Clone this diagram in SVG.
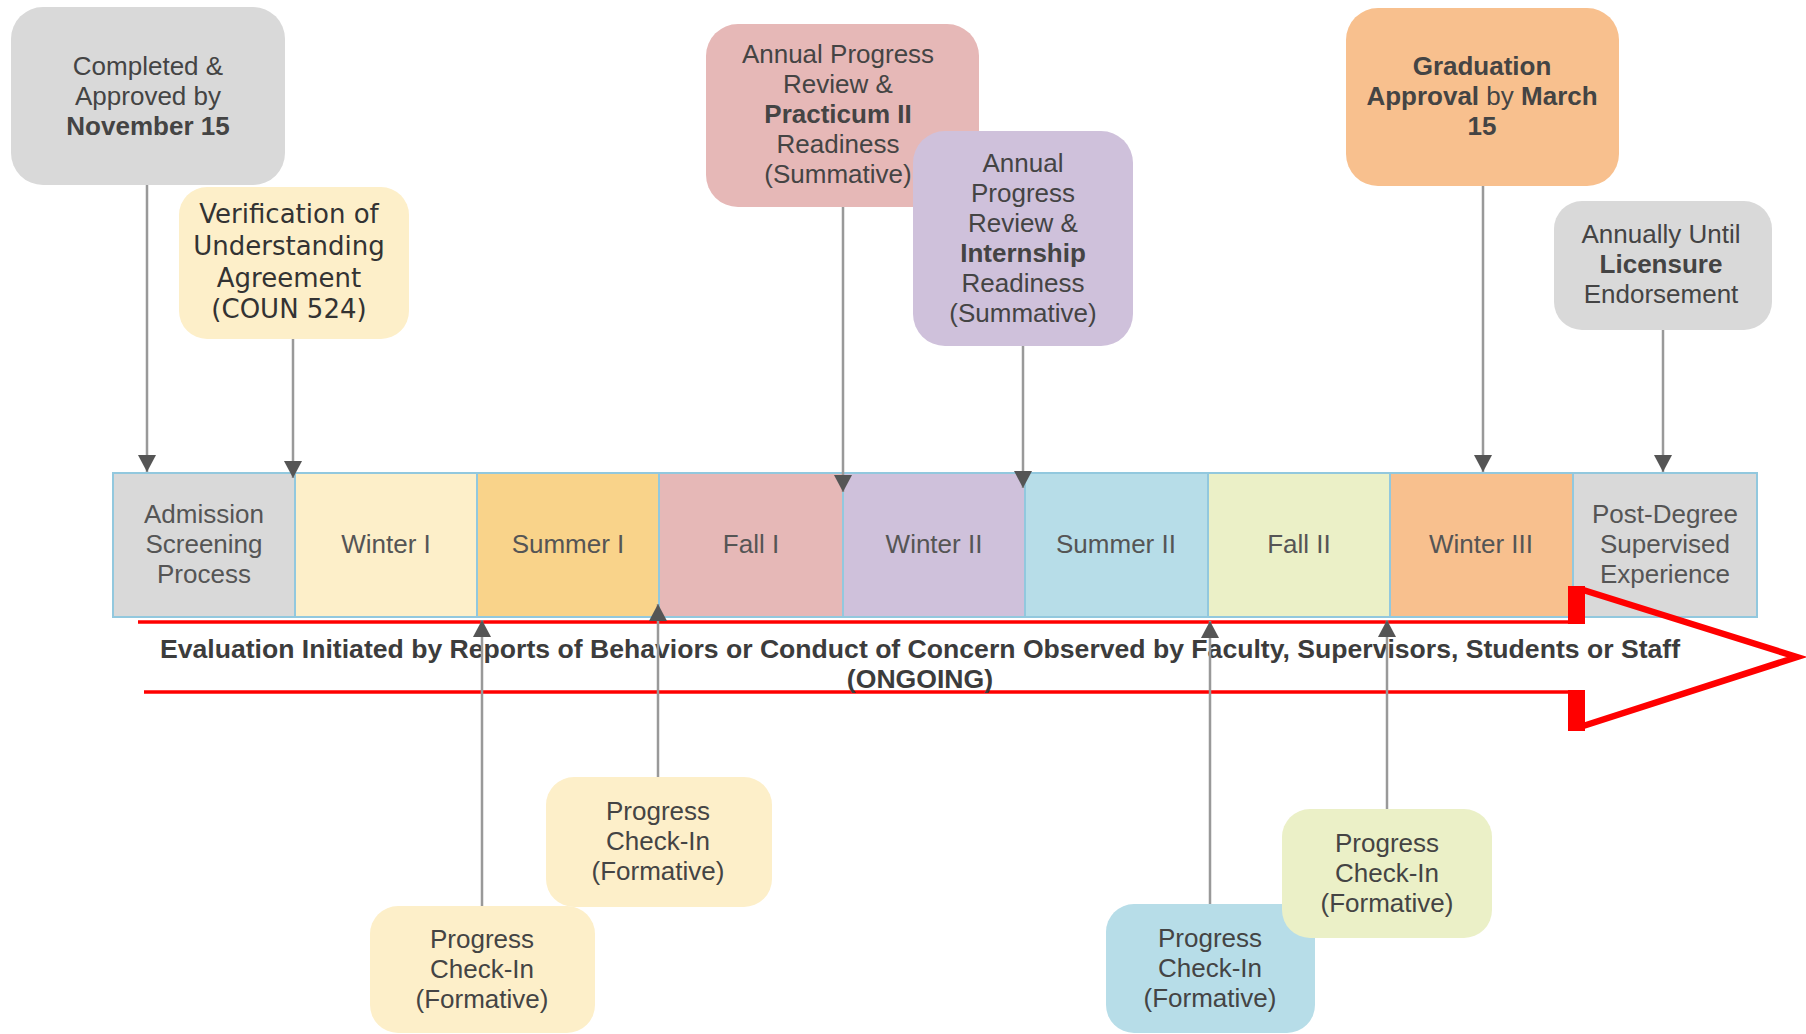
<svg xmlns="http://www.w3.org/2000/svg" width="1806" height="1034" viewBox="0 0 1806 1034">
<style>
text{font-family:"Liberation Sans",Arial,sans-serif;font-size:26px;fill:#444;text-anchor:middle}
.b{font-weight:bold}
.v{font-family:"DejaVu Sans",Verdana,sans-serif;font-size:26px;fill:#333}
.ev{font-size:26.6px;font-weight:bold;fill:#3c3c3c}
.cell{stroke:#92c8de;stroke-width:2}
.cell-t{fill:#555}
.conn{stroke:#999;stroke-width:2.5;fill:none}
.red{stroke:#ff0000;fill:none}
.gray{fill:#d9d9d9}.yel{fill:#fdefc9}.sum{fill:#f9d38a}.pink{fill:#e6b8b7}.pur{fill:#cfc1db}.blue{fill:#b7dde8}.grn{fill:#ebf0c7}.org{fill:#f8c08e}
</style>
<defs>
<marker id="ah" viewBox="0 0 18 18" refX="17" refY="9" markerWidth="18" markerHeight="18" orient="auto" markerUnits="userSpaceOnUse">
<path d="M0,0 L17,9 L0,18 z" fill="#555"/>
</marker>
</defs>
<rect width="1806" height="1034" fill="#fff"/>

<!-- timeline cells -->
<g id="timeline">
<g id="cell-admission"><rect class="cell gray" x="113" y="473" width="182" height="144"/><text class="cell-t" x="204" y="523">Admission</text><text class="cell-t" x="204" y="553">Screening</text><text class="cell-t" x="204" y="583">Process</text></g>
<g id="cell-winter1"><rect class="cell yel" x="295" y="473" width="182" height="144"/><text class="cell-t" x="386" y="553">Winter I</text></g>
<g id="cell-summer1"><rect class="cell sum" x="477" y="473" width="182" height="144"/><text class="cell-t" x="568" y="553">Summer I</text></g>
<g id="cell-fall1"><rect class="cell pink" x="659" y="473" width="184" height="144"/><text class="cell-t" x="751" y="553">Fall I</text></g>
<g id="cell-winter2"><rect class="cell pur" x="843" y="473" width="182" height="144"/><text class="cell-t" x="934" y="553">Winter II</text></g>
<g id="cell-summer2"><rect class="cell blue" x="1025" y="473" width="183" height="144"/><text class="cell-t" x="1116" y="553">Summer II</text></g>
<g id="cell-fall2"><rect class="cell grn" x="1208" y="473" width="182" height="144"/><text class="cell-t" x="1299" y="553">Fall II</text></g>
<g id="cell-winter3"><rect class="cell org" x="1390" y="473" width="183" height="144"/><text class="cell-t" x="1481" y="553">Winter III</text></g>
<g id="cell-postdegree"><rect class="cell gray" x="1573" y="473" width="184" height="144"/><text class="cell-t" x="1665" y="523">Post-Degree</text><text class="cell-t" x="1665" y="553">Supervised</text><text class="cell-t" x="1665" y="583">Experience</text></g>
</g>

<!-- ongoing evaluation arrow -->
<g id="ongoing-arrow">
<line class="red" x1="138" y1="622" x2="1585" y2="622" stroke-width="3.5"/>
<line class="red" x1="144" y1="692" x2="1585" y2="692" stroke-width="3.5"/>
<rect x="1568" y="586" width="17" height="38" fill="#ff0000"/>
<rect x="1568" y="690" width="17" height="41" fill="#ff0000"/>
<polyline class="red" points="1580,589 1797,657 1580,727" stroke-width="6.5" stroke-linejoin="miter"/>
<text class="ev" x="920" y="658">Evaluation Initiated by Reports of Behaviors or Conduct of Concern Observed by Faculty, Supervisors, Students or Staff</text>
<text class="ev" x="920" y="688">(ONGOING)</text>
</g>

<!-- top nodes -->
<g id="node-completed"><rect class="gray" x="11" y="7" width="274" height="178" rx="32"/><text x="148" y="75">Completed &amp;</text><text x="148" y="105">Approved by</text><text class="b" x="148" y="135">November 15</text></g>
<g id="node-verification"><rect class="yel" x="179" y="187" width="230" height="152" rx="28"/><text class="v" x="289" y="223">Verification of</text><text class="v" x="289" y="255">Understanding</text><text class="v" x="289" y="287">Agreement</text><text class="v" x="289" y="318">(COUN 524)</text></g>
<g id="node-practicum"><rect class="pink" x="706" y="24" width="273" height="183" rx="32"/><text x="838" y="63">Annual Progress</text><text x="838" y="93">Review &amp;</text><text class="b" x="838" y="123">Practicum II</text><text x="838" y="153">Readiness</text><text x="838" y="183">(Summative)</text></g>
<g id="node-internship"><rect class="pur" x="913" y="131" width="220" height="215" rx="32"/><text x="1023" y="172">Annual</text><text x="1023" y="202">Progress</text><text x="1023" y="232">Review &amp;</text><text class="b" x="1023" y="262">Internship</text><text x="1023" y="292">Readiness</text><text x="1023" y="322">(Summative)</text></g>
<g id="node-graduation"><rect class="org" x="1346" y="8" width="273" height="178" rx="32"/><text class="b" x="1482" y="75">Graduation</text><text x="1482" y="105"><tspan class="b">Approval</tspan> by <tspan class="b">March</tspan></text><text class="b" x="1482" y="135">15</text></g>
<g id="node-licensure"><rect class="gray" x="1554" y="201" width="218" height="129" rx="28"/><text x="1661" y="243">Annually Until</text><text class="b" x="1661" y="273">Licensure</text><text x="1661" y="303">Endorsement</text></g>

<!-- bottom nodes -->
<g id="node-checkin-summer1"><rect class="yel" x="546" y="777" width="226" height="130" rx="28"/><text x="658" y="820">Progress</text><text x="658" y="850">Check-In</text><text x="658" y="880">(Formative)</text></g>
<g id="node-checkin-winter1"><rect class="yel" x="370" y="906" width="225" height="127" rx="28"/><text x="482" y="948">Progress</text><text x="482" y="978">Check-In</text><text x="482" y="1008">(Formative)</text></g>
<g id="node-checkin-summer2"><rect class="blue" x="1106" y="904" width="209" height="129" rx="28"/><text x="1210" y="947">Progress</text><text x="1210" y="977">Check-In</text><text x="1210" y="1007">(Formative)</text></g>
<g id="node-checkin-fall2"><rect class="grn" x="1282" y="809" width="210" height="129" rx="28"/><text x="1387" y="852">Progress</text><text x="1387" y="882">Check-In</text><text x="1387" y="912">(Formative)</text></g>

<!-- connectors -->
<g id="connectors">
<line class="conn" x1="147" y1="185" x2="147" y2="472" marker-end="url(#ah)"/>
<line class="conn" x1="293" y1="339" x2="293" y2="478" marker-end="url(#ah)"/>
<line class="conn" x1="843" y1="207" x2="843" y2="492" marker-end="url(#ah)"/>
<line class="conn" x1="1023" y1="346" x2="1023" y2="488" marker-end="url(#ah)"/>
<line class="conn" x1="1483" y1="186" x2="1483" y2="472" marker-end="url(#ah)"/>
<line class="conn" x1="1663" y1="330" x2="1663" y2="472" marker-end="url(#ah)"/>
<line class="conn" x1="482" y1="906" x2="482" y2="620" marker-end="url(#ah)"/>
<line class="conn" x1="658" y1="777" x2="658" y2="604" marker-end="url(#ah)"/>
<line class="conn" x1="1210" y1="904" x2="1210" y2="621" marker-end="url(#ah)"/>
<line class="conn" x1="1387" y1="809" x2="1387" y2="620" marker-end="url(#ah)"/>
</g>
</svg>
